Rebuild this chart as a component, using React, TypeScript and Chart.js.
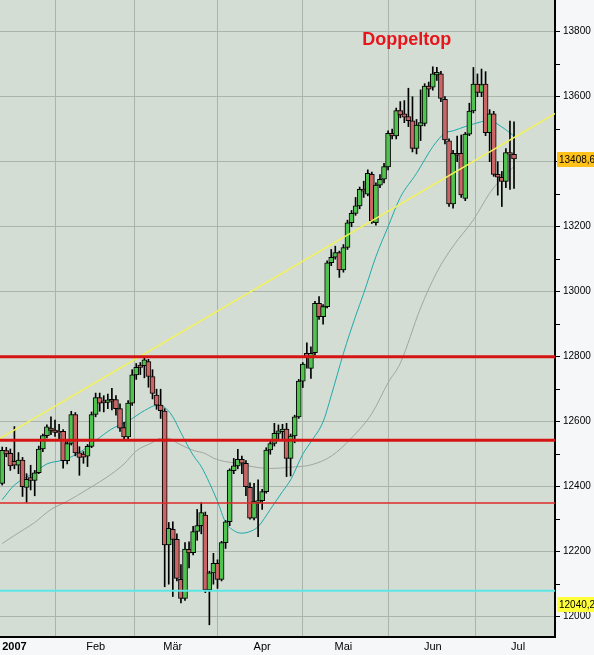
import { useEffect, useRef } from 'react';
import { Chart, registerables } from 'chart.js';

Chart.register(...registerables);

// Trading sessions, Dec 27 2006 .. Jun 29 2007 (one bar per session)
const decDays = [27, 28, 29];
const janDays = [3, 4, 5, 8, 9, 10, 11, 12, 16, 17, 18, 19, 22, 23, 24, 25, 26, 29, 30, 31];
const febDays = [1, 2, 5, 6, 7, 8, 9, 12, 13, 14, 15, 16, 20, 21, 22, 23, 26, 27, 28];
const marDays = [1, 2, 5, 6, 7, 8, 9, 12, 13, 14, 15, 16, 19, 20, 21, 22, 23, 26, 27, 28, 29, 30];
const aprDays = [2, 3, 4, 5, 9, 10, 11, 12, 13, 16, 17, 18, 19, 20, 23, 24, 25, 26, 27, 30];
const mayDays = [1, 2, 3, 4, 7, 8, 9, 10, 11, 14, 15, 16, 17, 18, 21, 22, 23, 24, 25, 29, 30, 31];
const junDays = [1, 4, 5, 6, 7, 8, 11, 12, 13, 14, 15, 18, 19, 20, 21, 22, 25, 26, 27, 28, 29];

const opens = [
  12410, 12511, 12503, 12478, 12466, 12482, 12398, 12428, 12419, 12443, 12516, 12557, 12580,
  12574, 12570, 12570, 12480, 12533, 12622, 12504, 12500, 12494, 12524,
  12622, 12674, 12664, 12659, 12669, 12668, 12640, 12582, 12553, 12657,
  12744, 12774, 12772, 12785, 12739, 12682, 12651, 12633, 12221, 12269,
  12238, 12115, 12056, 12207, 12197, 12262, 12280, 12313, 12082, 12135,
  12164, 12115, 12228, 12292, 12449, 12464, 12484, 12472, 12398, 12303,
  12351, 12357, 12385, 12513, 12533, 12564, 12569, 12577, 12487, 12556,
  12615, 12725, 12810, 12764, 12812, 12964, 12923, 12954, 13089, 13106,
  13120, 13067, 13136, 13212, 13241, 13264, 13316, 13300, 13361, 13212,
  13328, 13346, 13384, 13487, 13479, 13557, 13547, 13539, 13526, 13441,
  13510, 13518, 13633, 13629, 13667, 13670, 13592, 13464, 13270, 13426,
  13426, 13287, 13485, 13556, 13639, 13613, 13639, 13489, 13547, 13361,
  13352, 13339, 13428, 13423,
];
const highs = [
  12522, 12521, 12516, 12585, 12505, 12490, 12440, 12466, 12450, 12525, 12562, 12590, 12615,
  12605, 12592, 12576, 12545, 12632, 12628, 12523, 12508, 12530, 12630,
  12688, 12688, 12680, 12685, 12703, 12680, 12655, 12598, 12665, 12760,
  12779, 12782, 12798, 12792, 12760, 12700, 12700, 12640, 12290, 12292,
  12255, 12160, 12228, 12230, 12278, 12330, 12351, 12322, 12140, 12195,
  12175, 12232, 12296, 12455, 12487, 12515, 12494, 12480, 12412, 12410,
  12421, 12392, 12520, 12545, 12595, 12590, 12592, 12595, 12562, 12620,
  12730, 12782, 12843, 12830, 12970, 12985, 12960, 13095, 13130, 13140,
  13125, 13145, 13220, 13250, 13290, 13322, 13340, 13375, 13368, 13335,
  13360, 13395, 13495, 13500, 13565, 13585, 13588, 13626, 13600, 13530,
  13621, 13640, 13645, 13692, 13690, 13678, 13600, 13470, 13435, 13479,
  13482, 13490, 13580, 13690, 13670, 13685, 13677, 13560, 13555, 13400,
  13370, 13440, 13525, 13523,
];
const lows = [
  12405, 12492, 12450, 12455, 12440, 12370, 12352, 12390, 12372, 12440, 12508, 12550, 12560,
  12555, 12545, 12457, 12470, 12528, 12495, 12435, 12472, 12462, 12520,
  12615, 12632, 12630, 12640, 12636, 12620, 12570, 12545, 12548, 12650,
  12730, 12745, 12735, 12706, 12670, 12638, 12610, 12092, 12100, 12062,
  12110, 12042, 12050, 12150, 12190, 12235, 12255, 12074, 11975, 12100,
  12087, 12110, 12210, 12280, 12440, 12455, 12440, 12372, 12300, 12298,
  12246, 12330, 12380, 12500, 12525, 12545, 12548, 12431, 12433, 12535,
  12610, 12705, 12765, 12733, 12805, 12915, 12900, 12950, 13080, 13100,
  13044, 13060, 13130, 13200, 13235, 13255, 13290, 13295, 13210, 13205,
  13320, 13335, 13375, 13470, 13470, 13535, 13520, 13508, 13430, 13424,
  13465, 13510, 13600, 13620, 13650, 13585, 13455, 13262, 13257, 13400,
  13290, 13280, 13480, 13550, 13600, 13600, 13480, 13400, 13355, 13297,
  13262, 13320, 13315, 13318,
];
const closes = [
  12512, 12501, 12464, 12466, 12482, 12400, 12423, 12419, 12443, 12516, 12557, 12584, 12573,
  12567, 12566, 12480, 12533, 12622, 12504, 12490, 12491, 12524, 12622,
  12674, 12657, 12658, 12667, 12663, 12640, 12580, 12553, 12657, 12744,
  12767, 12767, 12790, 12739, 12687, 12651, 12634, 12221, 12272, 12238,
  12118, 12056, 12208, 12196, 12262, 12280, 12320, 12082, 12135, 12164,
  12115, 12228, 12292, 12451, 12464, 12484, 12472, 12400, 12303, 12354,
  12357, 12385, 12513, 12533, 12564, 12572, 12577, 12487, 12556, 12615,
  12725, 12777, 12800, 12810, 12964, 12923, 12954, 13089, 13106, 13120,
  13067, 13136, 13212, 13241, 13264, 13315, 13309, 13364, 13218, 13328,
  13346, 13385, 13487, 13479, 13557, 13544, 13537, 13526, 13441, 13513,
  13520, 13633, 13623, 13670, 13675, 13595, 13467, 13270, 13426, 13420,
  13298, 13485, 13556, 13639, 13613, 13637, 13489, 13547, 13361, 13352,
  13339, 13428, 13423, 13408.6,
];

// Fast (cyan) and slow (grey) moving averages: bar number -> value
const fastMaBar = [0, 3, 8, 11, 15, 19, 23, 27, 31, 35, 38, 40, 42, 44, 47, 49, 51, 53, 55, 57, 59, 61, 63, 66, 69, 71, 74, 76, 79, 81, 84, 87, 89, 92, 95, 98, 102, 106, 109, 111, 114, 118, 120, 122, 124, 126];
const fastMaValue = [12360, 12405, 12444, 12470, 12482, 12505, 12542, 12578, 12602, 12634, 12650, 12644, 12615, 12566, 12497, 12462, 12412, 12355, 12290, 12265, 12257, 12262, 12277, 12330, 12385, 12421, 12500, 12538, 12600, 12680, 12810, 12925, 12995, 13108, 13200, 13290, 13364, 13446, 13488, 13495, 13508, 13523, 13528, 13515, 13498, 13479];
const slowMaBar = [0, 3, 8, 12, 16, 21, 24, 27, 30, 33, 37, 39, 41, 43, 47, 50, 52, 55, 58, 61, 66, 71, 76, 81, 86, 91, 95, 98, 103, 107, 111, 116, 120, 123, 126];
const slowMaValue = [12225, 12250, 12290, 12330, 12355, 12392, 12415, 12440, 12470, 12510, 12536, 12549, 12549, 12535, 12512, 12502, 12488, 12477, 12472, 12463, 12456, 12460, 12467, 12494, 12550, 12625, 12720, 12780, 12950, 13060, 13140, 13221, 13303, 13349, 13385];

// Rising trend line through the January / February highs
const trendBar = [-2, 138];
const trendValue = [12538, 13562];

// Horizontal support / resistance levels
const levelValues = [12800, 12543, 12350, 12080];

// Price tags on the value axis: last close and the March low
const tagValues = [13408.6, 12040.2];

// Month axis
const monthStartBar = [3, 23, 42, 64, 84, 106, 127];
const monthLabels = ['2007', 'Feb', 'Mär', 'Apr', 'Mai', 'Jun', 'Jul'];

// Value axis
const yTickValues = [12000, 12100, 12200, 12300, 12400, 12500, 12600, 12700, 12800, 12900, 13000, 13100, 13200, 13300, 13400, 13500, 13600, 13700, 13800];

const noteText = 'Doppeltop';
const noteBar = 99.6;
const noteValue = 13774;

const pad = (n: number) => (n < 10 ? '0' + n : String(n));
const sessions: string[] = [
  ...decDays.map((d) => `2006-12-${pad(d)}`),
  ...janDays.map((d) => `2007-01-${pad(d)}`),
  ...febDays.map((d) => `2007-02-${pad(d)}`),
  ...marDays.map((d) => `2007-03-${pad(d)}`),
  ...aprDays.map((d) => `2007-04-${pad(d)}`),
  ...mayDays.map((d) => `2007-05-${pad(d)}`),
  ...junDays.map((d) => `2007-06-${pad(d)}`),
];

const PAGE_BG = '#F5F7F9';
const PLOT_BG = '#D3DDD3';
const GRID = '#AAB4AA';
const YEAR_GRID = '#737B73';
const UP = '#4FC24F';
const DOWN = '#C96565';

const backdrop = {
  id: 'backdrop',
  beforeDraw(chart: any) {
    const { ctx, chartArea: a, width, height } = chart;
    ctx.save();
    ctx.fillStyle = PAGE_BG;
    ctx.fillRect(0, 0, width, height);
    ctx.fillStyle = PLOT_BG;
    ctx.fillRect(a.left, a.top, a.right - a.left, a.bottom - a.top);
    ctx.restore();
  },
};

const overlays = {
  id: 'overlays',
  afterDraw(chart: any) {
    const { ctx, chartArea: a, width } = chart;
    const ys = chart.scales.y;
    const xs = chart.scales.x;
    ctx.save();
    // heading over the double top
    ctx.font = 'bold 18px Arial, "Liberation Sans", sans-serif';
    ctx.fillStyle = '#E8141C';
    ctx.textAlign = 'center';
    ctx.textBaseline = 'middle';
    ctx.fillText(noteText, xs.getPixelForValue(noteBar), ys.getPixelForValue(noteValue));
    // value tags on the axis
    ctx.font = '10px Arial, "Liberation Sans", sans-serif';
    ctx.textAlign = 'left';
    tagValues.forEach((v, k) => {
      const py = Math.round(ys.getPixelForValue(v));
      ctx.fillStyle = k === 0 ? '#FFC21A' : '#FFFF3A';
      ctx.fillRect(a.right + 2, py - 7, width - a.right - 2, 15);
      ctx.fillStyle = '#000';
      ctx.fillText(v.toFixed(1).replace('.', ','), a.right + 4, py + 1);
    });
    ctx.restore();
  },
};

export default function App() {
  const ref = useRef<HTMLCanvasElement>(null);

  useEffect(() => {
    const canvas = ref.current;
    if (!canvas) return;

    const wicks = sessions.map((_, i) => ({ x: i, y: [lows[i], highs[i]] }));
    const bodies = sessions.map((_, i) => ({ x: i, y: [opens[i], closes[i]] }));
    const bodyColors = sessions.map((_, i) => (closes[i] >= opens[i] ? UP : DOWN));

    const levelStyles = [
      { color: '#D51414', width: 3 },
      { color: '#D51414', width: 3 },
      { color: '#DE2A2A', width: 1.6 },
      { color: '#5BE6E6', width: 2 },
    ];

    const chart = new Chart(canvas, {
      type: 'bar',
      data: {
        datasets: [
          ...levelValues.map((v, k) => ({
            type: 'line' as const,
            data: [
              { x: trendBar[0], y: v },
              { x: trendBar[1], y: v },
            ],
            borderColor: levelStyles[k].color,
            borderWidth: levelStyles[k].width,
            pointRadius: 0,
            order: 0,
          })),
          {
            type: 'line' as const,
            data: trendBar.map((b, k) => ({ x: b, y: trendValue[k] })),
            borderColor: '#F2F25A',
            borderWidth: 1.5,
            pointRadius: 0,
            order: 0,
          },
          {
            type: 'bar' as const,
            data: bodies as any,
            backgroundColor: bodyColors,
            borderColor: '#000',
            borderWidth: 1,
            borderSkipped: false,
            barThickness: 5,
            grouped: false,
            order: 1,
          },
          {
            type: 'bar' as const,
            data: wicks as any,
            backgroundColor: '#000',
            borderWidth: 0,
            barThickness: 1,
            grouped: false,
            order: 2,
          },
          {
            type: 'line' as const,
            data: fastMaBar.map((b, k) => ({ x: b, y: fastMaValue[k] })),
            borderColor: '#1FAAAA',
            borderWidth: 1,
            pointRadius: 0,
            cubicInterpolationMode: 'monotone',
            order: 3,
          },
          {
            type: 'line' as const,
            data: slowMaBar.map((b, k) => ({ x: b, y: slowMaValue[k] })),
            borderColor: '#A2A6A2',
            borderWidth: 1,
            pointRadius: 0,
            cubicInterpolationMode: 'monotone',
            order: 3,
          },
        ] as any,
      },
      options: {
        responsive: false,
        animation: false,
        devicePixelRatio: 1,
        layout: { padding: 0 },
        plugins: {
          legend: { display: false },
          tooltip: { enabled: false },
        },
        scales: {
          x: {
            type: 'linear',
            min: -0.545,
            max: 136.09,
            offset: false,
            afterBuildTicks: (s: any) => {
              s.ticks = monthStartBar.map((v) => ({ value: v }));
            },
            afterFit: (s: any) => {
              s.height = 18;
              s.paddingLeft = 0;
              s.paddingRight = 0;
            },
            ticks: {
              autoSkip: false,
              maxRotation: 0,
              minRotation: 0,
              padding: 3,
              color: '#000',
              font: (c: any) => ({
                family: 'Arial, "Liberation Sans", sans-serif',
                size: 11,
                weight: c.index === 0 ? 'bold' : 'normal',
              }),
              callback: (_v: any, i: number) => monthLabels[i],
            },
            grid: {
              color: (c: any) => (c.index === 0 ? YEAR_GRID : GRID),
              lineWidth: 1,
              drawTicks: false,
            },
            border: { display: true, color: '#000', width: 2 },
          },
          y: {
            type: 'linear',
            position: 'right',
            min: 11937.5,
            max: 13897.5,
            afterBuildTicks: (s: any) => {
              s.ticks = yTickValues.map((v) => ({ value: v }));
            },
            afterFit: (s: any) => {
              s.width = 39;
              s.paddingTop = 0;
              s.paddingBottom = 0;
            },
            ticks: {
              padding: 3,
              color: '#000',
              font: { family: 'Arial, "Liberation Sans", sans-serif', size: 10 },
              callback: (v: any) => (Number(v) % 200 === 0 ? String(v) : ''),
            },
            grid: {
              color: (c: any) => (c.tick && c.tick.value % 200 === 0 ? GRID : 'rgba(0,0,0,0)'),
              tickColor: '#000',
              tickLength: 5,
              lineWidth: 1,
            },
            border: { display: true, color: '#000', width: 2 },
          },
        },
      },
      plugins: [backdrop, overlays],
    });

    return () => chart.destroy();
  }, []);

  return (
    <div style={{ position: 'fixed', left: 0, top: 0, width: 594, height: 655 }}>
      <canvas ref={ref} width={594} height={655} style={{ display: 'block', width: 594, height: 655 }} />
    </div>
  );
}
